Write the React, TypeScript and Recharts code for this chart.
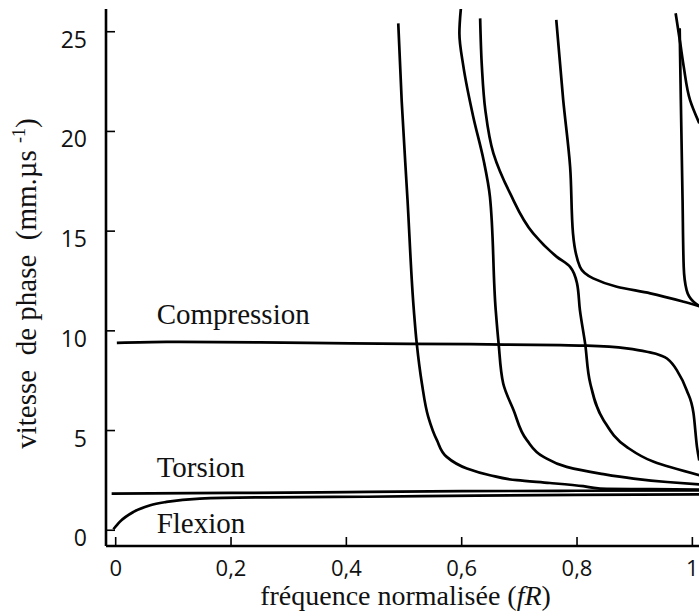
import React from 'react';
import { LineChart, Line, XAxis, YAxis, ReferenceDot } from 'recharts';

type P = { x: number; y: number };

const xTicks = [0, 0.2, 0.4, 0.6, 0.8, 1];
const xTickLabels = ['0', '0,2', '0,4', '0,6', '0,8', '1'];
const yTicks = [0, 5, 10, 15, 20, 25];
const yTickLabels = ['0', '5', '10', '15', '20', '25'];

const torsion: P[] = [
  { x: -0.007, y: 1.84 }, { x: 0.2, y: 1.87 }, { x: 0.4, y: 1.91 }, { x: 0.6, y: 1.96 },
  { x: 0.8, y: 1.98 }, { x: 1.012, y: 2.0 },
];
const flexion: P[] = [
  { x: -0.004, y: 0.05 }, { x: 0.007, y: 0.42 }, { x: 0.031, y: 0.92 }, { x: 0.06, y: 1.25 },
  { x: 0.088, y: 1.42 }, { x: 0.146, y: 1.59 }, { x: 0.262, y: 1.65 }, { x: 0.435, y: 1.68 },
  { x: 0.626, y: 1.74 }, { x: 0.8, y: 1.77 }, { x: 1.012, y: 1.8 },
];
const compression: P[] = [
  { x: 0.002, y: 9.4 }, { x: 0.088, y: 9.45 }, { x: 0.25, y: 9.42 }, { x: 0.407, y: 9.37 },
  { x: 0.615, y: 9.33 }, { x: 0.771, y: 9.28 }, { x: 0.817, y: 9.26 }, { x: 0.886, y: 9.12 },
  { x: 0.921, y: 8.95 }, { x: 0.944, y: 8.78 }, { x: 0.956, y: 8.61 }, { x: 0.973, y: 8.03 },
  { x: 0.99, y: 7.03 }, { x: 1.002, y: 5.86 }, { x: 1.008, y: 4.18 }, { x: 1.012, y: 3.5 },
];
const modeA: P[] = [
  { x: 0.49, y: 25.42 }, { x: 0.496, y: 21.5 }, { x: 0.506, y: 16.6 }, { x: 0.517, y: 11.04 },
  { x: 0.522, y: 9.38 }, { x: 0.531, y: 7.36 }, { x: 0.542, y: 5.69 }, { x: 0.557, y: 4.52 },
  { x: 0.574, y: 3.68 }, { x: 0.609, y: 3.1 }, { x: 0.649, y: 2.76 }, { x: 0.696, y: 2.51 },
  { x: 0.753, y: 2.37 }, { x: 0.811, y: 2.21 }, { x: 0.84, y: 2.09 }, { x: 0.927, y: 2.06 },
  { x: 1.012, y: 2.04 },
];
const modeB: P[] = [
  { x: 0.599, y: 26.3 }, { x: 0.596, y: 24.92 }, { x: 0.603, y: 23.25 }, { x: 0.62, y: 20.74 },
  { x: 0.638, y: 18.56 }, { x: 0.649, y: 16.72 }, { x: 0.659, y: 11.04 }, { x: 0.664, y: 9.37 },
  { x: 0.672, y: 7.36 }, { x: 0.69, y: 6.02 }, { x: 0.713, y: 4.52 }, { x: 0.742, y: 3.68 },
  { x: 0.782, y: 3.18 }, { x: 0.84, y: 2.84 }, { x: 0.898, y: 2.59 }, { x: 0.956, y: 2.42 },
  { x: 1.012, y: 2.3 },
];
const modeC: P[] = [
  { x: 0.632, y: 25.67 }, { x: 0.635, y: 23.25 }, { x: 0.641, y: 21.07 }, { x: 0.655, y: 18.9 },
  { x: 0.684, y: 16.89 }, { x: 0.724, y: 14.89 }, { x: 0.765, y: 13.71 }, { x: 0.788, y: 13.21 },
  { x: 0.8, y: 12.38 }, { x: 0.805, y: 11.04 }, { x: 0.814, y: 9.37 }, { x: 0.823, y: 7.36 },
  { x: 0.846, y: 5.52 }, { x: 0.886, y: 4.18 }, { x: 0.933, y: 3.43 }, { x: 1.012, y: 2.76 },
];
const modeD: P[] = [
  { x: 0.764, y: 25.59 }, { x: 0.776, y: 21.58 }, { x: 0.788, y: 18.23 }, { x: 0.793, y: 14.89 },
  { x: 0.805, y: 13.21 }, { x: 0.828, y: 12.63 }, { x: 0.869, y: 12.21 }, { x: 0.927, y: 11.88 },
  { x: 0.985, y: 11.46 }, { x: 1.012, y: 11.24 },
];
const modeE: P[] = [
  { x: 0.971, y: 25.93 }, { x: 0.979, y: 24.42 }, { x: 0.985, y: 23.25 }, { x: 0.996, y: 21.57 },
  { x: 1.012, y: 20.41 },
];
const modeF: P[] = [
  { x: 0.978, y: 25.17 }, { x: 0.98, y: 21.58 }, { x: 0.983, y: 16.56 }, { x: 0.985, y: 13.21 },
  { x: 0.99, y: 12.04 }, { x: 1.002, y: 11.46 }, { x: 1.012, y: 11.24 },
];

const curveLabels = ['Compression', 'Torsion', 'Flexion'];
const labelAnchors: P[] = [
  { x: 0.071, y: 10.34 }, { x: 0.071, y: 2.67 }, { x: 0.071, y: -0.14 },
];

const serif = '"Liberation Serif", "Times New Roman", serif';
const sans = '"Open Sans", sans-serif';

const YTick = (props: any) => {
  const { x, y, payload } = props;
  const i = yTicks.indexOf(payload.value);
  return (
    <g>
      <line x1={x} x2={x + 9} y1={y} y2={y} stroke="#000" strokeWidth={1.6} />
      <text x={x - 19} y={y + 16} textAnchor="end" fontFamily={sans} fontSize={23} fill="#111">
        {yTickLabels[i]}
      </text>
    </g>
  );
};

const XTick = (props: any) => {
  const { x, y, payload } = props;
  const i = xTicks.indexOf(payload.value);
  return (
    <g>
      <line x1={x} x2={x} y1={y} y2={y - 9} stroke="#000" strokeWidth={1.6} />
      <text x={x} y={y + 30} textAnchor="middle" fontFamily={sans} fontSize={22} fill="#111">
        {xTickLabels[i]}
      </text>
    </g>
  );
};

const YTitle = (props: any) => {
  const vb = props.viewBox;
  const cx = vb.x + 36;
  const cy = vb.y + vb.height / 2 + 6;
  return (
    <text
      x={cx}
      y={cy}
      transform={`rotate(-90, ${cx}, ${cy})`}
      textAnchor="middle"
      fontFamily={serif}
      fontSize={29}
      fill="#111"
      style={{ whiteSpace: 'pre' }}
    >
      {'vitesse  de phase  (mm.µs '}
      <tspan fontSize={18} dy={-11}>-1</tspan>
      <tspan dy={11}>)</tspan>
    </text>
  );
};

const XTitle = (props: any) => {
  const vb = props.viewBox;
  return (
    <text
      x={vb.x + vb.width / 2 + 3}
      y={vb.y + 59}
      textAnchor="middle"
      fontFamily={serif}
      fontSize={28}
      fill="#111"
    >
      {'fréquence normalisée ('}
      <tspan fontStyle="italic">fR</tspan>
      {')'}
    </text>
  );
};

const series = [torsion, flexion, compression, modeA, modeB, modeC, modeD, modeE, modeF];
const seriesTypes = ['monotone', 'monotone', 'monotone', 'monotoneY', 'monotoneY', 'monotoneY', 'monotoneY', 'monotoneY', 'monotoneY'];

export default function App() {
  return (
    <div style={{ position: 'absolute', left: 0, top: 0, background: '#fff' }}>
      <LineChart width={699} height={616} margin={{ top: 9, right: 0, bottom: 0, left: 0 }}>
        <XAxis
          xAxisId="top"
          orientation="top"
          type="number"
          dataKey="x"
          domain={[-0.0168, 1.0115]}
          allowDataOverflow
          height={0}
          tick={false}
          tickLine={false}
          axisLine={{ stroke: '#000', strokeWidth: 2.6 }}
        />
        <XAxis
          type="number"
          dataKey="x"
          domain={[-0.0168, 1.0115]}
          allowDataOverflow
          ticks={xTicks}
          interval={0}
          height={70}
          tickSize={0}
          tickMargin={0}
          tickLine={false}
          tick={<XTick />}
          axisLine={{ stroke: '#000', strokeWidth: 2.6 }}
          label={{ content: (p: any) => <XTitle {...p} /> }}
        />
        <YAxis
          type="number"
          domain={[-0.79, 26.14]}
          allowDataOverflow
          ticks={yTicks}
          interval={0}
          width={106}
          tickSize={0}
          tickMargin={0}
          tickLine={false}
          tick={<YTick />}
          axisLine={{ stroke: '#000', strokeWidth: 2.6 }}
          label={{ content: (p: any) => <YTitle {...p} /> }}
        />
        {series.map((d, i) => (
          <Line
            key={i}
            data={d}
            dataKey="y"
            type={seriesTypes[i] as any}
            stroke="#000"
            strokeWidth={2.7}
            dot={false}
            activeDot={false}
            isAnimationActive={false}
          />
        ))}
        {curveLabels.map((t, i) => (
          <ReferenceDot
            key={t}
            x={labelAnchors[i].x}
            y={labelAnchors[i].y}
            r={0}
            ifOverflow="visible"
            shape={(p: any) => (
              <text x={p.cx} y={p.cy} fontFamily={serif} fontSize={29} fill="#111">
                {t}
              </text>
            )}
          />
        ))}
      </LineChart>
    </div>
  );
}
